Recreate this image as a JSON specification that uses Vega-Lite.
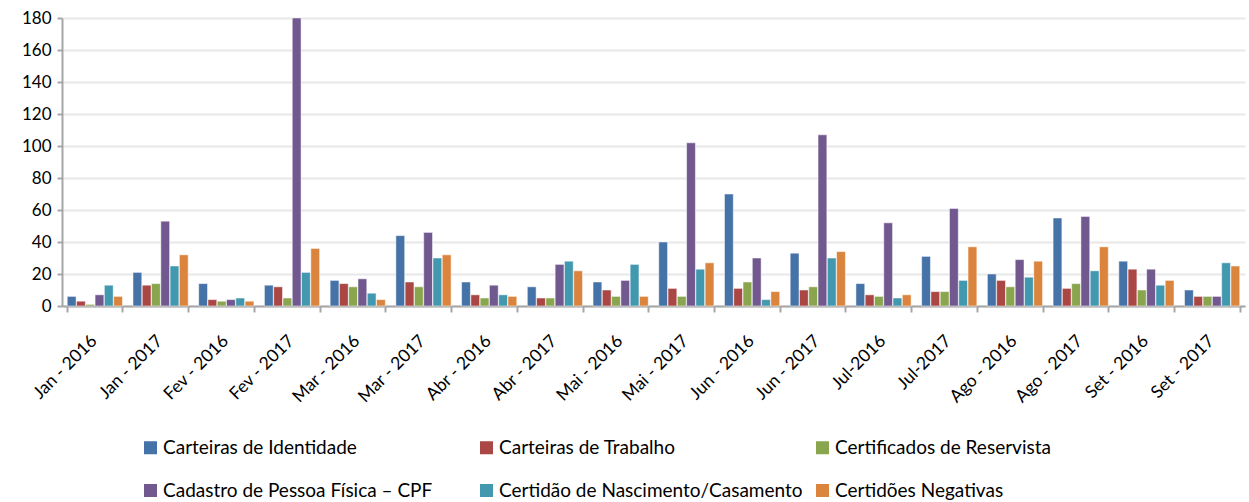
{
  "$schema": "https://vega.github.io/schema/vega-lite/v6.json",
  "width": 1183,
  "height": 288,
  "autosize": {"type": "none"},
  "padding": {"left": 62, "top": 18, "right": 4, "bottom": 196},
  "background": "white",
  "config": {"view": {"stroke": null}, "font": "Lato"},
  "data": {"values": [
    {"m":"Jan - 2016","s":"Carteiras de Identidade","v":6},{"m":"Jan - 2016","s":"Carteiras de Trabalho","v":3},{"m":"Jan - 2016","s":"Certificados de Reservista","v":1},{"m":"Jan - 2016","s":"Cadastro de Pessoa Física – CPF","v":7},{"m":"Jan - 2016","s":"Certidão de Nascimento/Casamento","v":13},{"m":"Jan - 2016","s":"Certidões Negativas","v":6},
    {"m":"Jan - 2017","s":"Carteiras de Identidade","v":21},{"m":"Jan - 2017","s":"Carteiras de Trabalho","v":13},{"m":"Jan - 2017","s":"Certificados de Reservista","v":14},{"m":"Jan - 2017","s":"Cadastro de Pessoa Física – CPF","v":53},{"m":"Jan - 2017","s":"Certidão de Nascimento/Casamento","v":25},{"m":"Jan - 2017","s":"Certidões Negativas","v":32},
    {"m":"Fev - 2016","s":"Carteiras de Identidade","v":14},{"m":"Fev - 2016","s":"Carteiras de Trabalho","v":4},{"m":"Fev - 2016","s":"Certificados de Reservista","v":3},{"m":"Fev - 2016","s":"Cadastro de Pessoa Física – CPF","v":4},{"m":"Fev - 2016","s":"Certidão de Nascimento/Casamento","v":5},{"m":"Fev - 2016","s":"Certidões Negativas","v":3},
    {"m":"Fev - 2017","s":"Carteiras de Identidade","v":13},{"m":"Fev - 2017","s":"Carteiras de Trabalho","v":12},{"m":"Fev - 2017","s":"Certificados de Reservista","v":5},{"m":"Fev - 2017","s":"Cadastro de Pessoa Física – CPF","v":180},{"m":"Fev - 2017","s":"Certidão de Nascimento/Casamento","v":21},{"m":"Fev - 2017","s":"Certidões Negativas","v":36},
    {"m":"Mar - 2016","s":"Carteiras de Identidade","v":16},{"m":"Mar - 2016","s":"Carteiras de Trabalho","v":14},{"m":"Mar - 2016","s":"Certificados de Reservista","v":12},{"m":"Mar - 2016","s":"Cadastro de Pessoa Física – CPF","v":17},{"m":"Mar - 2016","s":"Certidão de Nascimento/Casamento","v":8},{"m":"Mar - 2016","s":"Certidões Negativas","v":4},
    {"m":"Mar - 2017","s":"Carteiras de Identidade","v":44},{"m":"Mar - 2017","s":"Carteiras de Trabalho","v":15},{"m":"Mar - 2017","s":"Certificados de Reservista","v":12},{"m":"Mar - 2017","s":"Cadastro de Pessoa Física – CPF","v":46},{"m":"Mar - 2017","s":"Certidão de Nascimento/Casamento","v":30},{"m":"Mar - 2017","s":"Certidões Negativas","v":32},
    {"m":"Abr - 2016","s":"Carteiras de Identidade","v":15},{"m":"Abr - 2016","s":"Carteiras de Trabalho","v":7},{"m":"Abr - 2016","s":"Certificados de Reservista","v":5},{"m":"Abr - 2016","s":"Cadastro de Pessoa Física – CPF","v":13},{"m":"Abr - 2016","s":"Certidão de Nascimento/Casamento","v":7},{"m":"Abr - 2016","s":"Certidões Negativas","v":6},
    {"m":"Abr - 2017","s":"Carteiras de Identidade","v":12},{"m":"Abr - 2017","s":"Carteiras de Trabalho","v":5},{"m":"Abr - 2017","s":"Certificados de Reservista","v":5},{"m":"Abr - 2017","s":"Cadastro de Pessoa Física – CPF","v":26},{"m":"Abr - 2017","s":"Certidão de Nascimento/Casamento","v":28},{"m":"Abr - 2017","s":"Certidões Negativas","v":22},
    {"m":"Mai - 2016","s":"Carteiras de Identidade","v":15},{"m":"Mai - 2016","s":"Carteiras de Trabalho","v":10},{"m":"Mai - 2016","s":"Certificados de Reservista","v":6},{"m":"Mai - 2016","s":"Cadastro de Pessoa Física – CPF","v":16},{"m":"Mai - 2016","s":"Certidão de Nascimento/Casamento","v":26},{"m":"Mai - 2016","s":"Certidões Negativas","v":6},
    {"m":"Mai - 2017","s":"Carteiras de Identidade","v":40},{"m":"Mai - 2017","s":"Carteiras de Trabalho","v":11},{"m":"Mai - 2017","s":"Certificados de Reservista","v":6},{"m":"Mai - 2017","s":"Cadastro de Pessoa Física – CPF","v":102},{"m":"Mai - 2017","s":"Certidão de Nascimento/Casamento","v":23},{"m":"Mai - 2017","s":"Certidões Negativas","v":27},
    {"m":"Jun - 2016","s":"Carteiras de Identidade","v":70},{"m":"Jun - 2016","s":"Carteiras de Trabalho","v":11},{"m":"Jun - 2016","s":"Certificados de Reservista","v":15},{"m":"Jun - 2016","s":"Cadastro de Pessoa Física – CPF","v":30},{"m":"Jun - 2016","s":"Certidão de Nascimento/Casamento","v":4},{"m":"Jun - 2016","s":"Certidões Negativas","v":9},
    {"m":"Jun - 2017","s":"Carteiras de Identidade","v":33},{"m":"Jun - 2017","s":"Carteiras de Trabalho","v":10},{"m":"Jun - 2017","s":"Certificados de Reservista","v":12},{"m":"Jun - 2017","s":"Cadastro de Pessoa Física – CPF","v":107},{"m":"Jun - 2017","s":"Certidão de Nascimento/Casamento","v":30},{"m":"Jun - 2017","s":"Certidões Negativas","v":34},
    {"m":"Jul-2016","s":"Carteiras de Identidade","v":14},{"m":"Jul-2016","s":"Carteiras de Trabalho","v":7},{"m":"Jul-2016","s":"Certificados de Reservista","v":6},{"m":"Jul-2016","s":"Cadastro de Pessoa Física – CPF","v":52},{"m":"Jul-2016","s":"Certidão de Nascimento/Casamento","v":5},{"m":"Jul-2016","s":"Certidões Negativas","v":7},
    {"m":"Jul-2017","s":"Carteiras de Identidade","v":31},{"m":"Jul-2017","s":"Carteiras de Trabalho","v":9},{"m":"Jul-2017","s":"Certificados de Reservista","v":9},{"m":"Jul-2017","s":"Cadastro de Pessoa Física – CPF","v":61},{"m":"Jul-2017","s":"Certidão de Nascimento/Casamento","v":16},{"m":"Jul-2017","s":"Certidões Negativas","v":37},
    {"m":"Ago - 2016","s":"Carteiras de Identidade","v":20},{"m":"Ago - 2016","s":"Carteiras de Trabalho","v":16},{"m":"Ago - 2016","s":"Certificados de Reservista","v":12},{"m":"Ago - 2016","s":"Cadastro de Pessoa Física – CPF","v":29},{"m":"Ago - 2016","s":"Certidão de Nascimento/Casamento","v":18},{"m":"Ago - 2016","s":"Certidões Negativas","v":28},
    {"m":"Ago - 2017","s":"Carteiras de Identidade","v":55},{"m":"Ago - 2017","s":"Carteiras de Trabalho","v":11},{"m":"Ago - 2017","s":"Certificados de Reservista","v":14},{"m":"Ago - 2017","s":"Cadastro de Pessoa Física – CPF","v":56},{"m":"Ago - 2017","s":"Certidão de Nascimento/Casamento","v":22},{"m":"Ago - 2017","s":"Certidões Negativas","v":37},
    {"m":"Set - 2016","s":"Carteiras de Identidade","v":28},{"m":"Set - 2016","s":"Carteiras de Trabalho","v":23},{"m":"Set - 2016","s":"Certificados de Reservista","v":10},{"m":"Set - 2016","s":"Cadastro de Pessoa Física – CPF","v":23},{"m":"Set - 2016","s":"Certidão de Nascimento/Casamento","v":13},{"m":"Set - 2016","s":"Certidões Negativas","v":16},
    {"m":"Set - 2017","s":"Carteiras de Identidade","v":10},{"m":"Set - 2017","s":"Carteiras de Trabalho","v":6},{"m":"Set - 2017","s":"Certificados de Reservista","v":6},{"m":"Set - 2017","s":"Cadastro de Pessoa Física – CPF","v":6},{"m":"Set - 2017","s":"Certidão de Nascimento/Casamento","v":27},{"m":"Set - 2017","s":"Certidões Negativas","v":25}
  ]},
  "mark": {"type": "bar", "stroke": "#ffffff", "strokeWidth": 0.5},
  "encoding": {
    "x": {
      "field": "m", "type": "nominal", "sort": null, "title": null,
      "scale": {"paddingInner": 0.16, "paddingOuter": 0.08},
      "axis": {"labelAngle": -45, "labelAlign": "right", "labelBaseline": "middle", "labelFontSize": 17.5, "labelColor": "#000000", "labelOffset": -1, "domainColor": "#a6a6a6", "domainWidth": 2, "tickColor": "#a6a6a6", "tickWidth": 2, "tickSize": 6, "tickBand": "extent", "labelPadding": 26}
    },
    "xOffset": {
      "field": "s", "type": "nominal", "sort": ["Carteiras de Identidade","Carteiras de Trabalho","Certificados de Reservista","Cadastro de Pessoa Física – CPF","Certidão de Nascimento/Casamento","Certidões Negativas"],
      "scale": {"paddingInner": 0.05}
    },
    "y": {
      "field": "v", "type": "quantitative", "title": null,
      "scale": {"domain": [0, 180], "nice": false},
      "axis": {"values": [0,20,40,60,80,100,120,140,160,180], "labelFontSize": 17, "labelFont": "Lato", "labelColor": "#000000", "gridColor": "#e8e8e8", "gridWidth": 2, "domainColor": "#a6a6a6", "domainWidth": 2, "tickColor": "#a6a6a6", "tickWidth": 2, "tickSize": 5, "labelPadding": 6}
    },
    "color": {
      "field": "s", "type": "nominal", "title": null,
      "sort": ["Carteiras de Identidade","Carteiras de Trabalho","Certificados de Reservista","Cadastro de Pessoa Física – CPF","Certidão de Nascimento/Casamento","Certidões Negativas"],
      "scale": {"range": ["#4572A7","#AA4643","#89A54E","#71588F","#4198AF","#DB843D"]},
      "legend": {"orient": "none", "legendX": 79, "legendY": 420, "direction": "horizontal", "columns": 3, "gridAlign": "all", "symbolType": "square", "symbolSize": 169, "symbolStrokeWidth": 0, "labelFontSize": 19, "labelColor": "#000000", "labelLimit": 500, "columnPadding": 10, "rowPadding": 23, "symbolOffset": 0, "labelOffset": 3}
    }
  }
}
